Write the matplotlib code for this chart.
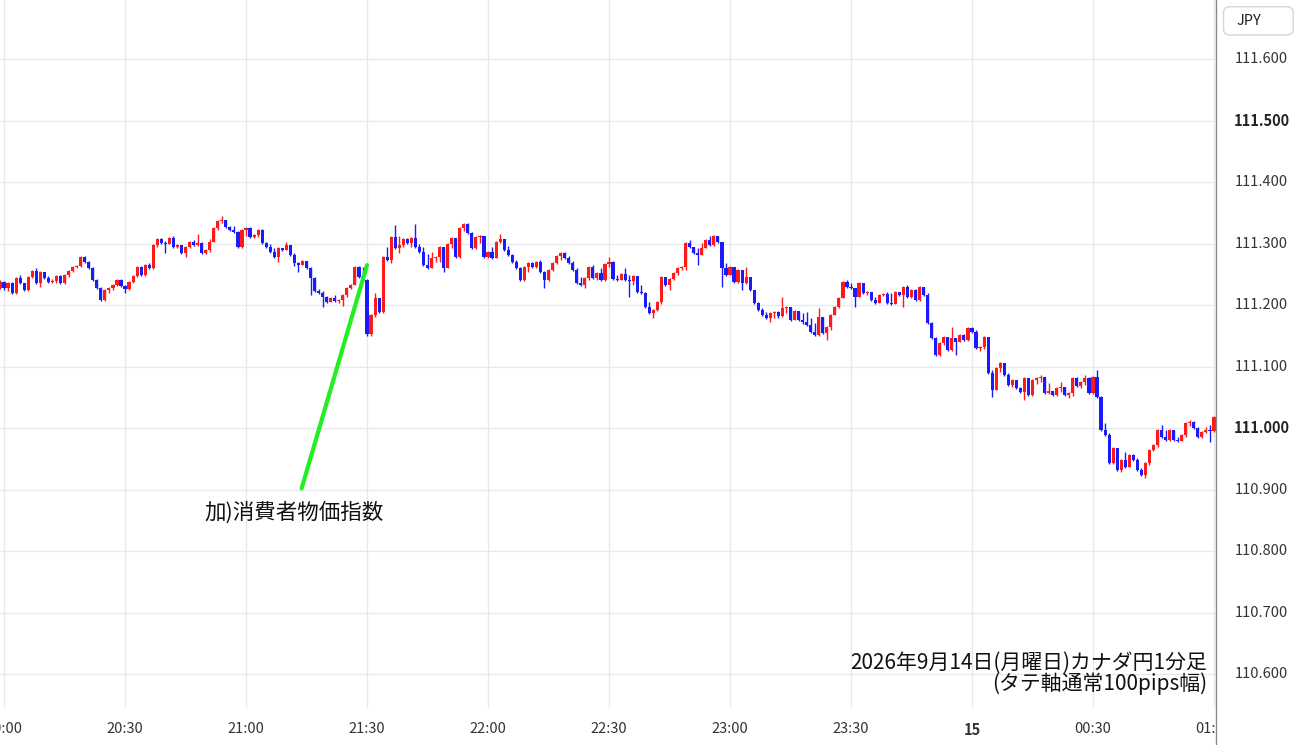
import numpy as np
import pandas as pd
import matplotlib
matplotlib.use('Agg')
import matplotlib.pyplot as plt
import matplotlib.dates as mdates
import matplotlib.transforms as mtransforms
from matplotlib.patches import FancyBboxPatch

plt.rcParams['font.family'] = ['Noto Sans CJK JP', 'DejaVu Sans']

# 1分足 2026-09-14 19:59 -> 2026-09-15 01:00
start = '2026-09-14 19:59'
first_open = 111.228
closes = [
    111.237, 111.228, 111.236, 111.220, 111.244, 111.236, 111.224, 111.246, 111.255, 111.236,
    111.254, 111.244, 111.237, 111.239, 111.247, 111.236, 111.249, 111.255, 111.262, 111.263,
    111.278, 111.270, 111.260, 111.241, 111.228, 111.208, 111.224, 111.228, 111.233, 111.241,
    111.231, 111.226, 111.237, 111.247, 111.262, 111.249, 111.265, 111.260, 111.298, 111.307,
    111.301, 111.299, 111.309, 111.294, 111.298, 111.285, 111.294, 111.302, 111.298, 111.301,
    111.285, 111.289, 111.302, 111.325, 111.337, 111.339, 111.327, 111.322, 111.319, 111.294,
    111.322, 111.325, 111.311, 111.314, 111.322, 111.301, 111.294, 111.286, 111.278, 111.293,
    111.289, 111.298, 111.281, 111.268, 111.265, 111.272, 111.260, 111.244, 111.223, 111.220,
    111.213, 111.205, 111.211, 111.207, 111.208, 111.216, 111.228, 111.233, 111.262, 111.246,
    111.241, 111.153, 111.184, 111.211, 111.189, 111.278, 111.273, 111.311, 111.293, 111.298,
    111.307, 111.301, 111.309, 111.294, 111.286, 111.265, 111.260, 111.276, 111.278, 111.294,
    111.260, 111.299, 111.309, 111.278, 111.325, 111.332, 111.317, 111.293, 111.311, 111.312,
    111.278, 111.286, 111.276, 111.302, 111.307, 111.289, 111.281, 111.270, 111.260, 111.241,
    111.262, 111.268, 111.262, 111.270, 111.254, 111.241, 111.257, 111.268, 111.280, 111.285,
    111.276, 111.268, 111.257, 111.236, 111.233, 111.244, 111.262, 111.244, 111.252, 111.241,
    111.267, 111.270, 111.242, 111.241, 111.250, 111.241, 111.239, 111.247, 111.221, 111.220,
    111.197, 111.187, 111.192, 111.205, 111.246, 111.233, 111.242, 111.252, 111.260, 111.262,
    111.301, 111.294, 111.285, 111.281, 111.293, 111.306, 111.298, 111.312, 111.302, 111.260,
    111.249, 111.262, 111.237, 111.257, 111.236, 111.246, 111.224, 111.203, 111.192, 111.184,
    111.179, 111.187, 111.189, 111.182, 111.195, 111.197, 111.176, 111.190, 111.176, 111.172,
    111.167, 111.156, 111.151, 111.180, 111.154, 111.164, 111.184, 111.197, 111.211, 111.237,
    111.229, 111.228, 111.213, 111.236, 111.220, 111.221, 111.208, 111.203, 111.216, 111.218,
    111.203, 111.202, 111.221, 111.216, 111.229, 111.213, 111.224, 111.208, 111.229, 111.216,
    111.171, 111.146, 111.119, 111.138, 111.148, 111.127, 111.146, 111.140, 111.151, 111.143,
    111.163, 111.156, 111.130, 111.132, 111.148, 111.089, 111.062, 111.098, 111.106, 111.086,
    111.070, 111.078, 111.065, 111.059, 111.081, 111.054, 111.078, 111.081, 111.083, 111.057,
    111.060, 111.054, 111.065, 111.067, 111.054, 111.057, 111.081, 111.068, 111.075, 111.081,
    111.057, 111.083, 111.050, 110.997, 110.989, 110.943, 110.968, 110.932, 110.948, 110.937,
    110.956, 110.948, 110.932, 110.924, 110.943, 110.964, 110.972, 110.997, 110.985, 110.980,
    110.997, 110.980, 110.979, 110.989, 111.008, 111.010, 111.000, 110.985, 110.993, 110.997,
    110.995, 111.018,
]
highs = [
    111.241, 111.239, 111.237, 111.237, 111.246, 111.249, 111.236, 111.247, 111.257, 111.260,
    111.255, 111.254, 111.247, 111.242, 111.249, 111.249, 111.250, 111.257, 111.263, 111.265,
    111.280, 111.280, 111.272, 111.262, 111.242, 111.229, 111.226, 111.229, 111.234, 111.242,
    111.242, 111.233, 111.239, 111.249, 111.263, 111.263, 111.267, 111.268, 111.299, 111.309,
    111.309, 111.304, 111.311, 111.312, 111.299, 111.296, 111.296, 111.304, 111.306, 111.315,
    111.302, 111.291, 111.307, 111.327, 111.338, 111.345, 111.338, 111.328, 111.328, 111.320,
    111.324, 111.327, 111.327, 111.315, 111.324, 111.324, 111.302, 111.299, 111.293, 111.294,
    111.293, 111.302, 111.298, 111.285, 111.270, 111.273, 111.272, 111.262, 111.246, 111.226,
    111.223, 111.215, 111.213, 111.216, 111.210, 111.218, 111.229, 111.234, 111.263, 111.263,
    111.262, 111.242, 111.185, 111.219, 111.211, 111.280, 111.294, 111.312, 111.330, 111.312,
    111.309, 111.309, 111.311, 111.332, 111.299, 111.294, 111.283, 111.286, 111.280, 111.296,
    111.294, 111.301, 111.311, 111.307, 111.327, 111.333, 111.333, 111.319, 111.312, 111.314,
    111.311, 111.288, 111.294, 111.304, 111.315, 111.299, 111.296, 111.283, 111.273, 111.262,
    111.263, 111.270, 111.270, 111.272, 111.273, 111.255, 111.258, 111.270, 111.281, 111.286,
    111.286, 111.280, 111.272, 111.260, 111.246, 111.246, 111.263, 111.265, 111.254, 111.260,
    111.268, 111.278, 111.272, 111.249, 111.252, 111.260, 111.249, 111.249, 111.247, 111.233,
    111.221, 111.205, 111.194, 111.207, 111.247, 111.246, 111.244, 111.254, 111.262, 111.263,
    111.302, 111.306, 111.294, 111.293, 111.301, 111.307, 111.312, 111.314, 111.312, 111.302,
    111.268, 111.263, 111.262, 111.258, 111.246, 111.262, 111.246, 111.224, 111.205, 111.195,
    111.189, 111.189, 111.190, 111.190, 111.213, 111.198, 111.194, 111.192, 111.190, 111.187,
    111.189, 111.179, 111.171, 111.195, 111.180, 111.166, 111.185, 111.198, 111.213, 111.239,
    111.241, 111.236, 111.228, 111.237, 111.236, 111.223, 111.221, 111.213, 111.218, 111.219,
    111.221, 111.219, 111.223, 111.221, 111.231, 111.232, 111.226, 111.226, 111.231, 111.229,
    111.219, 111.172, 111.148, 111.140, 111.150, 111.148, 111.164, 111.146, 111.153, 111.153,
    111.164, 111.164, 111.159, 111.133, 111.150, 111.148, 111.094, 111.099, 111.107, 111.106,
    111.089, 111.080, 111.076, 111.067, 111.083, 111.081, 111.080, 111.083, 111.086, 111.083,
    111.073, 111.060, 111.067, 111.075, 111.067, 111.059, 111.083, 111.083, 111.076, 111.086,
    111.083, 111.085, 111.094, 111.052, 111.008, 110.992, 110.969, 110.968, 110.950, 110.961,
    110.958, 110.958, 110.951, 110.935, 110.945, 110.966, 110.974, 110.998, 111.005, 110.997,
    110.998, 110.997, 110.985, 110.990, 111.010, 111.013, 111.011, 111.002, 110.995, 111.002,
    111.005, 111.019,
]
lows = [
    111.226, 111.224, 111.223, 111.218, 111.218, 111.234, 111.223, 111.223, 111.244, 111.234,
    111.229, 111.242, 111.236, 111.236, 111.236, 111.234, 111.234, 111.246, 111.254, 111.260,
    111.262, 111.268, 111.259, 111.239, 111.226, 111.207, 111.207, 111.220, 111.224, 111.231,
    111.229, 111.220, 111.224, 111.236, 111.246, 111.247, 111.247, 111.259, 111.259, 111.294,
    111.299, 111.285, 111.299, 111.293, 111.293, 111.283, 111.278, 111.293, 111.296, 111.296,
    111.283, 111.283, 111.286, 111.302, 111.322, 111.333, 111.325, 111.320, 111.317, 111.293,
    111.293, 111.312, 111.309, 111.309, 111.311, 111.299, 111.293, 111.285, 111.276, 111.270,
    111.288, 111.289, 111.280, 111.263, 111.254, 111.265, 111.259, 111.216, 111.221, 111.218,
    111.197, 111.203, 111.205, 111.205, 111.203, 111.198, 111.213, 111.226, 111.233, 111.244,
    111.239, 111.150, 111.150, 111.180, 111.187, 111.187, 111.272, 111.268, 111.291, 111.285,
    111.294, 111.299, 111.294, 111.293, 111.285, 111.263, 111.259, 111.260, 111.270, 111.270,
    111.254, 111.260, 111.293, 111.276, 111.276, 111.320, 111.315, 111.291, 111.291, 111.301,
    111.276, 111.276, 111.275, 111.276, 111.301, 111.288, 111.280, 111.268, 111.259, 111.239,
    111.239, 111.254, 111.260, 111.260, 111.252, 111.228, 111.239, 111.255, 111.267, 111.273,
    111.275, 111.267, 111.255, 111.234, 111.231, 111.228, 111.241, 111.242, 111.241, 111.239,
    111.239, 111.262, 111.241, 111.239, 111.241, 111.239, 111.213, 111.233, 111.220, 111.218,
    111.195, 111.185, 111.179, 111.190, 111.202, 111.231, 111.224, 111.241, 111.249, 111.257,
    111.257, 111.293, 111.283, 111.265, 111.286, 111.294, 111.296, 111.296, 111.301, 111.229,
    111.247, 111.249, 111.236, 111.236, 111.224, 111.234, 111.223, 111.202, 111.190, 111.182,
    111.177, 111.172, 111.179, 111.179, 111.180, 111.187, 111.174, 111.176, 111.174, 111.170,
    111.166, 111.154, 111.150, 111.150, 111.153, 111.143, 111.159, 111.184, 111.195, 111.211,
    111.228, 111.226, 111.197, 111.213, 111.218, 111.216, 111.207, 111.202, 111.203, 111.214,
    111.202, 111.200, 111.202, 111.214, 111.197, 111.211, 111.211, 111.207, 111.207, 111.214,
    111.169, 111.145, 111.117, 111.117, 111.135, 111.125, 111.125, 111.119, 111.140, 111.141,
    111.141, 111.154, 111.128, 111.125, 111.128, 111.088, 111.050, 111.062, 111.091, 111.085,
    111.068, 111.067, 111.063, 111.057, 111.046, 111.052, 111.052, 111.072, 111.075, 111.055,
    111.055, 111.052, 111.052, 111.059, 111.052, 111.049, 111.052, 111.067, 111.065, 111.070,
    111.055, 111.055, 111.049, 110.995, 110.987, 110.941, 110.941, 110.930, 110.928, 110.935,
    110.937, 110.946, 110.930, 110.922, 110.919, 110.940, 110.963, 110.969, 110.984, 110.979,
    110.979, 110.979, 110.977, 110.979, 110.985, 111.003, 110.998, 110.984, 110.984, 110.992,
    110.977, 110.993,
]

tick_labels = ['20:00', '20:30', '21:00', '21:30', '22:00', '22:30',
               '23:00', '23:30', '15', '00:30', '01:00']
price_ticks = [110.6, 110.7, 110.8, 110.9, 111.0, 111.1, 111.2, 111.3, 111.4, 111.5, 111.6]
bold_prices = [111.0, 111.5]

note_text = '加)消費者物価指数'
note_time = '2026-09-14 21:30'
note_price = 111.265
note_text_time = '2026-09-14 21:12:00'
note_text_price = 110.862
title_lines = '2026年9月14日(月曜日)カナダ円1分足\n(タテ軸通常100pips幅)'

times = pd.date_range(start, periods=len(closes), freq='1min')
x = mdates.date2num(times)
c = np.array(closes)
o = np.array([first_open] + closes[:-1])
h = np.maximum(np.array(highs), np.maximum(o, c))
l = np.minimum(np.array(lows), np.minimum(o, c))
up = c >= o
col = np.where(up, '#ff1a1a', '#1a1aff')

W, H = 1300, 745
fig = plt.figure(figsize=(W / 100, H / 100), dpi=100)
fig.patch.set_facecolor('white')

ax_bottom = 37 / H
ax = fig.add_axes([0, ax_bottom, 1216 / W, 1 - ax_bottom])
ax.set_zorder(1)

minute = 1 / 1440
ax.vlines(x, l, h, colors=col, lw=1, zorder=3)
body_lo = np.minimum(o, c)
body_h = np.maximum(np.abs(c - o), 0.0012)
ax.bar(x, body_h, bottom=body_lo, width=0.78 * minute, color=col, lw=0, zorder=4)

ax.set_xlim(mdates.date2num(pd.Timestamp('2026-09-14 19:59:00')),
            mdates.date2num(pd.Timestamp('2026-09-15 01:00:30')))
ax.set_ylim(110.545, 111.696)

tick_times = pd.date_range('2026-09-14 20:00', periods=len(tick_labels), freq='30min')
ax.set_xticks(mdates.date2num(tick_times))
ax.set_xticklabels(tick_labels)
ax.set_yticks(price_ticks)
ax.tick_params(axis='x', length=0, pad=10, labelsize=10.5, labelcolor='#333333')
ax.tick_params(axis='y', length=0, labelleft=False)
for lab in ax.get_xticklabels():
    if lab.get_text() == '15':
        lab.set_fontweight('bold')
ax.grid(True, color='#e3ebf1', lw=1)
ax.set_axisbelow(True)
for s in ax.spines.values():
    s.set_visible(False)

ax.annotate(note_text,
            xy=(mdates.date2num(pd.Timestamp(note_time)), note_price),
            xytext=(mdates.date2num(pd.Timestamp(note_text_time)), note_text_price),
            ha='center', va='center', fontsize=15.5, color='#111111',
            arrowprops=dict(arrowstyle='-', color='#22ee22', lw=3,
                            shrinkA=8, shrinkB=0),
            zorder=6)

ax.text(1207 / 1216, (708 - 673) / 708, title_lines, transform=ax.transAxes,
        ha='right', va='center', fontsize=15, color='#111111',
        linespacing=0.92, zorder=6)

# right price scale
ax_r = fig.add_axes([1216 / W, 0, 1 - 1216 / W, 1])
ax_r.set_zorder(3)
ax_r.set_facecolor('white')
ax_r.set_ylim(111.696 - H / 615, 111.696)
ax_r.set_xlim(0, 1)
ax_r.set_xticks([])
ax_r.set_yticks([])
for k, s in ax_r.spines.items():
    s.set_visible(k == 'left')
ax_r.spines['left'].set_color('#8a8a8a')
ax_r.spines['left'].set_linewidth(1)
trans = mtransforms.blended_transform_factory(ax_r.transAxes, ax_r.transData)
for p in price_ticks:
    ax_r.text(0.54, p, f'{p:.3f}', transform=trans, ha='center', va='center',
              fontsize=10.5, color='#222222' if p in bold_prices else '#333333',
              fontweight='bold' if p in bold_prices else 'normal')

box = FancyBboxPatch((0.09, 0.953), 0.83, 0.038, transform=ax_r.transAxes,
                     boxstyle='round,pad=0,rounding_size=0.08',
                     fc='white', ec='#d5d5d5', lw=1, mutation_aspect=0.1)
ax_r.add_patch(box)
ax_r.text(0.39, 0.972, 'JPY', transform=ax_r.transAxes, ha='center', va='center',
          fontsize=10.5, color='#222222')

fig.savefig('out.png', dpi=100)
